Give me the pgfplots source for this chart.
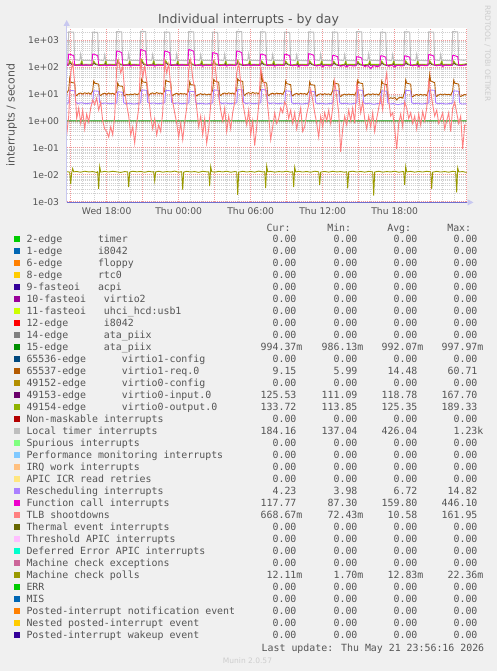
\documentclass[border=0pt]{standalone}
\usepackage{pgfplots}
\pgfplotsset{compat=1.18}
\usepackage{fontspec}
\setmainfont{DejaVu Sans}
\newfontfamily\mono{DejaVu Sans Mono}
\usetikzlibrary{arrows.meta}
\definecolor{txt}{HTML}{555555}
\definecolor{k00CC00}{HTML}{00CC00}
\definecolor{k0066B3}{HTML}{0066B3}
\definecolor{kFF8000}{HTML}{FF8000}
\definecolor{kFFCC00}{HTML}{FFCC00}
\definecolor{k330099}{HTML}{330099}
\definecolor{k990099}{HTML}{990099}
\definecolor{kCCFF00}{HTML}{CCFF00}
\definecolor{kFF0000}{HTML}{FF0000}
\definecolor{k808080}{HTML}{808080}
\definecolor{k008F00}{HTML}{008F00}
\definecolor{k00487D}{HTML}{00487D}
\definecolor{kB35A00}{HTML}{B35A00}
\definecolor{kB38F00}{HTML}{B38F00}
\definecolor{k6B006B}{HTML}{6B006B}
\definecolor{k8FB300}{HTML}{8FB300}
\definecolor{kB30000}{HTML}{B30000}
\definecolor{kBEBEBE}{HTML}{BEBEBE}
\definecolor{k80FF80}{HTML}{80FF80}
\definecolor{k80C9FF}{HTML}{80C9FF}
\definecolor{kFFC080}{HTML}{FFC080}
\definecolor{kFFE680}{HTML}{FFE680}
\definecolor{kAA80FF}{HTML}{AA80FF}
\definecolor{kEE00CC}{HTML}{EE00CC}
\definecolor{kFF8080}{HTML}{FF8080}
\definecolor{k666600}{HTML}{666600}
\definecolor{kFFBFFF}{HTML}{FFBFFF}
\definecolor{k00FFCC}{HTML}{00FFCC}
\definecolor{kCC6699}{HTML}{CC6699}
\definecolor{k999900}{HTML}{999900}
\newcommand\gp[1]{\hphantom{#1}}
\newcommand\z{0.00\hphantom{0}}
\newcommand\lrow[7]{%
  \fill[#2] (14,{428.7-12*#1}) rectangle ++(6,6);
  \node[lg] at (26.5,{428.1-12*#1}) {#3};
  \node[lv] at (302.4,{428.1-12*#1}) {#4};
  \node[lv] at (363.4,{428.1-12*#1}) {#5};
  \node[lv] at (423.4,{428.1-12*#1}) {#6};
  \node[lv] at (483.4,{428.1-12*#1}) {#7};
}
\begin{document}
\begin{tikzpicture}
\begin{scope}[x=1pt,y=1pt]
\fill[color={rgb,255:red,240;green,240;blue,240}] (0,0) rectangle (497,671);
\useasboundingbox (0,0) rectangle (497,671);
\end{scope}
\begin{axis}[
  at={(66.7pt,469.3pt)}, anchor=south west,
  scale only axis, width=400pt, height=173.4pt,
  xmin=0, xmax=400, ymode=log, ymin=1e-3, ymax=2716,
  axis background/.style={fill=white},
  axis line style={draw=none},
  major tick length=0pt, minor tick length=0pt,
  xtick={4,40,76,112,148,184,220,256,292,328,364,400},
  xticklabels={,Wed 18:00,,Thu 00:00,,Thu 06:00,,Thu 12:00,,Thu 18:00,,},
  minor xtick={4,16,...,400},
  ytick={1e-3,1e-2,1e-1,1,10,100,1000},
  yticklabels={1e-03,1e-02,1e-01,1e+00,1e+01,1e+02,1e+03},
  minor ytick={2e-3,3e-3,4e-3,5e-3,6e-3,7e-3,8e-3,9e-3,2e-2,3e-2,4e-2,5e-2,6e-2,7e-2,8e-2,9e-2,0.2,0.3,0.4,0.5,0.6,0.7,0.8,0.9,2,3,4,5,6,7,8,9,20,30,40,50,60,70,80,90,200,300,400,500,600,700,800,900,2000},
  grid=both,
  minor grid style={color={rgb,255:red,208;green,208;blue,208}, dash pattern=on 1pt off 1pt, line width=0.6pt},
  major grid style={color={rgb,255:red,240;green,150;blue,150}, dash pattern=on 1pt off 1pt, line width=0.6pt},
  tick label style={font=\fontsize{9.2}{10}\selectfont, text=txt},
  yticklabel style={anchor=east, inner sep=0pt, xshift=-7.4pt},
  xticklabel style={anchor=base, inner sep=0pt, yshift=-13.3pt},
  every axis plot/.append style={line width=0.9pt, no marks, sharp plot},
  clip=true,
]
% 15-edge ata_piix
\addplot[k008F00] coordinates {(0,0.992) (400,0.994)};
% 65537-edge virtio1-req.0
\addplot[kB35A00] coordinates {
(0,10.5) (2,14) (3,38) (4,27) (8,25) (9,9) (10,8.7) (12,10.2) (14,10.8) (16,9.9) (18,11) (20,10.3) (22,10.9) (24,9.8)
(26,13) (27,30) (28,25) (32,23) (33,9) (34,8.8) (36,10.1) (38,10.6) (40,9.7) (42,10.8) (44,10) (46,10.5) (48,9.6)
(50,12) (51,25) (52,20) (56,19) (57,8.8) (58,8.5) (60,9.6) (62,9.2) (64,9.8) (66,9.4) (68,10.1) (70,9.5) (72,9.9)
(74,14) (75,35) (76,28) (80,26) (81,9) (82,8.6) (84,10.3) (86,10.9) (88,10) (90,11.2) (92,10.4) (94,10.8) (96,9.9)
(98,13) (99,32) (100,30) (104,27) (105,9.2) (106,8.7) (108,9.8) (110,10.5) (112,9.6) (114,10.4) (116,9.9) (118,10.2) (120,9.5)
(122,13) (123,28) (124,22) (128,21) (129,8.9) (130,8.4) (132,9.5) (134,10.2) (136,9.4) (138,10) (140,9.2) (142,9.8) (144,9.3)
(146,14) (147,34) (148,30) (152,27) (153,9.1) (154,8.8) (156,10.2) (158,10.8) (160,10) (162,11) (164,10.3) (166,10.7) (168,9.8)
(170,14) (171,36) (172,32) (176,29) (177,9.3) (178,8.9) (180,10.4) (182,11.1) (184,10.2) (186,11.3) (188,10.5) (190,10.9) (192,10.1)
(194,15) (195,60) (196,28) (200,25) (201,9.2) (202,8.7) (204,10) (206,10.6) (208,9.8) (210,10.7) (212,10.1) (214,10.5) (216,9.7)
(218,13) (219,30) (220,24) (224,22) (225,8.9) (226,8.5) (228,9.8) (230,10.4) (232,9.6) (234,10.5) (236,9.9) (238,10.3) (240,9.5)
(242,12) (243,28) (244,22) (248,21) (249,8.7) (250,8.3) (252,9.6) (254,10.1) (256,9.3) (258,10.2) (260,9.6) (262,10) (264,9.2)
(266,13) (267,30) (268,25) (272,23) (273,8.5) (274,8) (276,9.2) (278,9.8) (280,9.1) (282,9.9) (284,9.3) (286,9.7) (288,9)
(290,13) (291,32) (292,26) (296,24) (297,8.6) (298,8.2) (300,9.4) (302,10) (304,9.2) (306,10.1) (308,9.5) (310,9.9) (312,9.1)
(314,12) (315,30) (316,24) (320,22) (321,7.5) (322,6.5) (324,7.2) (326,6.8) (328,7.4) (330,6) (332,7.1) (334,7.5) (336,7)
(338,12) (339,33) (340,25) (344,23) (345,8.2) (346,7.8) (348,8.9) (350,9.5) (352,8.8) (354,9.6) (356,9) (358,9.4) (360,8.7)
(362,14) (363,52) (364,30) (368,26) (369,8.6) (370,8.1) (372,9.2) (374,9.8) (376,9.1) (378,9.9) (380,9.3) (382,9.7) (384,9)
(386,13) (387,32) (388,25) (392,23) (393,8.5) (394,8) (396,8.8) (398,9.4) (400,9.15)
};
% 49153-edge virtio0-input.0
\addplot[k6B006B] coordinates {
(0,118) (2,116) (3,150) (5,121) (9,115) (14,117) (15,138) (16,116)
(26,117) (27,145) (29,122) (33,114) (38,118) (39,140) (40,116)
(50,116) (51,155) (53,123) (57,114) (62,117) (63,136) (64,115)
(74,118) (75,167) (77,124) (81,113) (86,118) (87,142) (88,116)
(98,117) (99,152) (101,122) (105,114) (110,117) (111,139) (112,115)
(122,116) (123,158) (125,123) (129,112) (134,118) (135,141) (136,116)
(146,117) (147,148) (149,121) (153,114) (158,117) (159,137) (160,115)
(170,118) (171,150) (173,122) (177,113) (182,118) (183,140) (184,116)
(194,117) (195,146) (197,121) (201,114) (206,117) (207,138) (208,115)
(218,116) (219,144) (221,121) (225,113) (230,117) (231,136) (232,115)
(242,117) (243,147) (245,122) (249,112) (254,118) (255,139) (256,116)
(266,116) (267,142) (269,120) (273,111) (278,117) (279,135) (280,115)
(290,117) (291,140) (293,121) (297,113) (302,117) (303,138) (304,115)
(314,116) (315,143) (317,121) (321,112) (326,118) (327,137) (328,116)
(338,117) (339,145) (341,122) (345,113) (350,117) (351,139) (352,115)
(362,118) (363,148) (365,122) (369,114) (374,118) (375,140) (376,116)
(386,117) (387,146) (389,121) (393,114) (398,120) (400,125.5)
};
% 49154-edge virtio0-output.0
\addplot[k8FB300] coordinates {
(0,126) (2,124) (3,170) (5,130) (9,122) (14,125) (15,180) (16,126)
(26,125) (27,165) (29,129) (33,121) (38,126) (39,185) (40,125)
(50,124) (51,175) (53,131) (57,120) (62,126) (63,178) (64,124)
(74,126) (75,189) (77,132) (81,119) (86,127) (87,182) (88,125)
(98,125) (99,172) (101,130) (105,121) (110,126) (111,176) (112,124)
(122,124) (123,180) (125,131) (129,118) (134,127) (135,184) (136,125)
(146,125) (147,168) (149,129) (153,121) (158,126) (159,175) (160,124)
(170,126) (171,174) (173,130) (177,119) (182,127) (183,180) (184,125)
(194,125) (195,166) (197,129) (201,121) (206,126) (207,177) (208,124)
(218,124) (219,164) (221,128) (225,119) (230,126) (231,172) (232,124)
(242,125) (243,168) (245,130) (249,118) (254,127) (255,179) (256,125)
(266,124) (267,162) (269,128) (273,117) (278,126) (279,170) (280,124)
(290,125) (291,160) (293,129) (297,119) (302,126) (303,176) (304,124)
(314,124) (315,165) (317,128) (321,118) (326,127) (327,174) (328,125)
(338,125) (339,168) (341,130) (345,119) (350,126) (351,178) (352,124)
(362,126) (363,170) (365,130) (369,120) (374,127) (375,175) (376,125)
(386,125) (387,166) (389,129) (393,120) (398,128) (400,133.7)
};
% Local timer interrupts
\addplot[kBEBEBE, line width=1pt] coordinates {
(0,175) (1,170) (2,2000) (7,1950) (8,185) (13,175) (14,300) (15,178) (25,172)
(26,1950) (31,1900) (32,182) (37,172) (38,280) (39,176) (49,170)
(50,2050) (55,2000) (56,185) (61,174) (62,310) (63,178) (73,172)
(74,2100) (79,2050) (80,184) (85,175) (86,290) (87,179) (97,171)
(98,1980) (103,1930) (104,182) (109,173) (110,300) (111,177) (121,170)
(122,2050) (127,2000) (128,185) (133,174) (134,285) (135,178) (145,172)
(146,1950) (151,1900) (152,181) (157,172) (158,295) (159,176) (169,170)
(170,2080) (175,2030) (176,184) (181,174) (182,305) (183,178) (193,171)
(194,2020) (199,1970) (200,183) (205,173) (206,290) (207,177) (217,170)
(218,1950) (223,1900) (224,181) (229,172) (230,280) (231,176) (241,169)
(242,2000) (247,1950) (248,182) (253,173) (254,300) (255,177) (265,170)
(266,1980) (271,1930) (272,181) (277,172) (278,285) (279,176) (289,169)
(290,2050) (295,2000) (296,184) (301,174) (302,305) (303,178) (313,171)
(314,1960) (319,1910) (320,181) (325,172) (326,290) (327,176) (337,170)
(338,2020) (343,1970) (344,183) (349,173) (350,295) (351,177) (361,170)
(362,2000) (367,1950) (368,182) (373,173) (374,290) (375,177) (385,169)
(386,2050) (391,2000) (392,184) (397,176) (400,184)
};
% Rescheduling interrupts
\addplot[kAA80FF] coordinates {
(0,4.5) (2,4.6) (3,13.5) (8,13) (9,4.9) (11,4.4) (15,4.7) (19,4.3) (23,4.5)
(26,4.6) (27,13) (32,12.5) (33,4.8) (35,4.4) (39,4.6) (43,4.3) (47,4.5)
(50,4.5) (51,12) (56,11.5) (57,4.7) (59,4.3) (63,4.5) (67,4.2) (71,4.4)
(74,4.6) (75,14) (80,13.5) (81,4.9) (83,4.4) (87,4.6) (91,4.3) (95,4.5)
(98,4.6) (99,13.5) (104,13) (105,4.8) (107,4.4) (111,4.6) (115,4.3) (119,4.5)
(122,4.5) (123,12.5) (128,12) (129,4.7) (131,4.3) (135,4.5) (139,4.2) (143,4.4)
(146,4.6) (147,14) (152,13.5) (153,4.9) (155,4.4) (159,4.6) (163,4.3) (167,4.5)
(170,4.6) (171,14.5) (176,14) (177,4.9) (179,4.4) (183,4.6) (187,4.3) (191,4.5)
(194,4.6) (195,14.8) (200,13.5) (201,4.8) (203,4.4) (207,4.6) (211,4.3) (215,4.5)
(218,4.5) (219,13) (224,12.5) (225,4.7) (227,4.3) (231,4.5) (235,4.2) (239,4.4)
(242,4.5) (243,12.5) (248,12) (249,4.7) (251,4.3) (255,4.5) (259,4.2) (263,4.4)
(266,4.5) (267,13.5) (272,13) (273,4.7) (275,4.3) (279,4.5) (283,4.2) (287,4.4)
(290,4.5) (291,14) (296,13.5) (297,4.7) (299,4.3) (303,4.5) (307,4.1) (311,4.4)
(314,4.4) (315,13) (320,12.5) (321,4.6) (323,4.2) (327,4.4) (331,4.0) (335,4.3)
(338,4.5) (339,13.5) (344,13) (345,4.7) (347,4.3) (351,4.5) (355,4.2) (359,4.4)
(362,4.5) (363,14) (368,13.5) (369,4.7) (371,4.3) (375,4.5) (379,4.2) (383,4.4)
(386,4.5) (387,13) (392,12.5) (393,4.6) (395,4.2) (399,4.3) (400,4.23)
};
% Function call interrupts
\addplot[kEE00CC] coordinates {
(0,120) (1,116) (2,300) (4,290) (7,260) (8,122) (10,114) (13,120) (16,112) (19,122) (22,116) (25,114)
(26,300) (28,295) (31,260) (32,122) (34,112) (37,119) (40,110) (43,121) (46,114) (49,116)
(50,390) (52,380) (55,340) (56,125) (58,114) (61,120) (64,108) (67,122) (70,115) (73,112)
(74,440) (76,420) (79,380) (80,126) (82,112) (85,120) (88,107) (91,121) (94,114) (97,116)
(98,390) (100,375) (103,340) (104,124) (106,114) (109,121) (112,110) (115,123) (118,116) (121,113)
(122,440) (124,425) (127,380) (128,125) (130,113) (133,119) (136,106) (139,121) (142,114) (145,115)
(146,340) (148,330) (151,300) (152,123) (154,112) (157,120) (160,108) (163,122) (166,115) (169,112)
(170,390) (172,380) (175,340) (176,124) (178,114) (181,121) (184,109) (187,123) (190,116) (193,114)
(194,300) (196,295) (199,265) (200,122) (202,112) (205,119) (208,107) (211,121) (214,114) (217,113)
(218,300) (220,290) (223,260) (224,121) (226,110) (229,118) (232,104) (235,120) (238,112) (241,111)
(242,310) (244,300) (247,270) (248,120) (250,108) (253,116) (256,102) (259,119) (262,109) (265,110)
(266,270) (268,262) (271,240) (272,118) (274,106) (277,114) (280,101) (283,117) (286,108) (289,109)
(290,240) (292,235) (295,215) (296,117) (298,104) (301,112) (304,88) (307,114) (310,102) (313,108)
(314,260) (316,255) (319,230) (320,118) (322,106) (325,116) (328,100) (331,118) (334,109) (337,111)
(338,260) (340,250) (343,230) (344,120) (346,109) (349,118) (352,103) (355,120) (358,111) (361,112)
(362,290) (364,280) (367,255) (368,121) (370,110) (373,119) (376,104) (379,121) (382,113) (385,114)
(386,270) (388,262) (391,240) (392,120) (394,111) (397,117) (400,117.8)
};
% TLB shootdowns
\addplot[kFF8080] coordinates {
(0,0.3) (2,1.5) (4,60) (6,150) (8,25) (10,1.2) (12,3) (14,0.8) (16,2.5) (18,0.5) (20,1.8) (22,0.9) (24,3)
(26,6) (28,4) (30,7) (32,2.5) (34,5) (36,1) (38,0.5) (40,0.4) (42,0.25) (44,0.6) (46,0.3) (48,1.5)
(50,90) (52,180) (54,60) (56,100) (58,12) (60,4) (62,1.5) (64,0.3) (66,0.6) (68,0.15) (70,0.8) (72,3)
(74,200) (76,40) (78,110) (80,30) (82,8) (84,1.5) (86,0.5) (88,1.2) (90,0.3) (92,0.7) (94,0.4) (96,2)
(98,160) (100,60) (102,130) (104,20) (106,5) (108,2) (110,0.8) (112,0.25) (114,0.8) (116,0.2) (118,0.9) (120,3)
(122,80) (124,190) (126,40) (128,15) (130,3) (132,0.6) (134,1.5) (136,0.3) (138,1.2) (140,0.15) (142,0.5) (144,4)
(146,100) (148,170) (150,30) (152,8) (154,2.5) (156,1) (158,3) (160,0.4) (162,1.5) (164,0.5) (166,2) (168,5)
(170,60) (172,150) (174,25) (176,5) (178,1.8) (180,0.7) (182,2.5) (184,0.3) (186,1) (188,0.12) (190,0.6) (192,4)
(194,90) (196,40) (198,20) (200,8) (202,1.5) (204,0.2) (206,0.6) (208,2) (210,0.8) (212,1.2) (214,3) (216,2)
(218,5) (220,3.5) (222,1.2) (224,2.5) (226,0.8) (228,2) (230,0.5) (232,1.2) (234,3) (236,0.4) (238,0.6) (240,1.8)
(242,4) (244,15) (246,6) (248,2) (250,0.8) (252,0.25) (254,1.5) (256,0.6) (258,2) (260,1) (262,2.5) (264,0.8)
(266,3) (268,30) (270,8) (272,2) (274,0.07) (276,0.5) (278,1.5) (280,0.7) (282,2.5) (284,1) (286,3) (288,0.8)
(290,23) (292,10) (294,2) (296,5) (298,1.2) (300,0.5) (302,1.5) (304,0.6) (306,2) (308,0.4) (310,1.2) (312,3)
(314,8) (316,2.5) (318,20) (320,60) (322,6) (324,1.5) (326,2) (328,0.5) (330,0.09) (332,0.8) (334,1.8) (336,0.6)
(338,5) (340,3) (342,1.2) (344,2) (346,0.8) (348,1.5) (350,0.5) (352,1.8) (354,0.7) (356,2.2) (358,1) (360,3)
(362,30) (364,12) (366,4) (368,1.5) (370,2.5) (372,0.8) (374,1.2) (376,2) (378,0.5) (380,1) (382,2) (384,0.4)
(386,3) (388,5) (390,2) (392,0.8) (394,1.5) (396,0.09) (398,0.7) (400,0.67)
};
% Machine check polls
\addplot[k999900] coordinates {
(0,0.013) (3,0.0125) (4,0.0045) (5,0.012) (6,0.017) (7,0.0128) (10,0.0132) (14,0.0124) (18,0.0135) (22,0.0127) (26,0.0131) (30,0.0122)
(31,0.013) (32,0.003) (33,0.02) (34,0.0125) (38,0.0133) (42,0.0126) (46,0.0134) (50,0.0128) (54,0.0122) (58,0.0131)
(61,0.0127) (62,0.0035) (63,0.0125) (66,0.0135) (70,0.0128) (74,0.0132) (78,0.0124) (82,0.0133) (86,0.0127)
(87,0.013) (88,0.006) (89,0.0128) (92,0.0134) (96,0.0125) (100,0.0131) (104,0.0127) (108,0.0136) (112,0.0124)
(115,0.013) (116,0.0028) (117,0.0126) (120,0.0133) (124,0.0127) (128,0.0131) (132,0.0123) (136,0.0134) (140,0.0128)
(142,0.0128) (143,0.0038) (144,0.02) (145,0.013) (148,0.0125) (152,0.0133) (156,0.0127) (160,0.0135) (164,0.0124) (168,0.0131)
(170,0.0128) (171,0.0018) (172,0.0125) (176,0.0134) (180,0.0126) (184,0.0132) (188,0.0125) (192,0.0136) (196,0.0127)
(198,0.013) (199,0.0032) (200,0.021) (201,0.0128) (204,0.0133) (208,0.0125) (212,0.0131) (216,0.0127) (220,0.0135) (224,0.0124)
(226,0.013) (227,0.0035) (228,0.019) (229,0.0127) (232,0.0133) (236,0.0126) (240,0.0132) (244,0.0124) (248,0.0135)
(252,0.0128) (253,0.0042) (254,0.0126) (258,0.0132) (262,0.0125) (266,0.0134) (270,0.0127) (274,0.0131) (278,0.0124)
(280,0.013) (281,0.0031) (282,0.0128) (286,0.0135) (290,0.0126) (294,0.0132) (298,0.0125) (302,0.0133)
(306,0.0128) (307,0.0017) (308,0.0127) (312,0.0134) (316,0.0125) (320,0.0131) (324,0.0127) (328,0.0135) (332,0.0124)
(336,0.0131) (337,0.013) (338,0.0042) (339,0.02) (340,0.0127) (344,0.0133) (348,0.0125) (352,0.0132) (356,0.0126) (360,0.0134)
(364,0.0128) (365,0.003) (366,0.0125) (370,0.0133) (374,0.0126) (378,0.0131) (382,0.0124) (386,0.0134)
(389,0.013) (390,0.0022) (391,0.018) (392,0.0127) (396,0.0131) (400,0.0121)
};
\end{axis}
\begin{scope}[x=1pt,y=1pt,
  lg/.style={anchor=base west, inner sep=0pt, outer sep=0pt, font=\mono\fontsize{9.9}{12}\selectfont, text=txt},
  lv/.style={anchor=base east, inner sep=0pt, outer sep=0pt, font=\mono\fontsize{9.9}{12}\selectfont, text=txt}]
% axis lines
\draw[color={rgb,255:red,200;green,200;blue,240}, line width=1pt, -{Triangle[width=6pt,length=6pt]}] (66.7,469.3) -- (66.7,651);
\draw[color={rgb,255:red,200;green,200;blue,240}, line width=1pt, -{Triangle[width=6pt,length=6pt]}] (66.7,468.6) -- (473.5,468.6);
\draw[color={rgb,255:red,112;green,112;blue,208}, line width=1pt] (66.7,468.6) -- (466.7,468.6);
% titles
\node[anchor=base, inner sep=0pt, font=\fontsize{12.5}{14}\selectfont, text=txt] at (248.5,647) {Individual interrupts - by day};
\node[rotate=90, anchor=base, inner sep=0pt, font=\fontsize{10.9}{12}\selectfont, text=txt] at (14.5,556) {interrupts / second};
\node[rotate=-90, anchor=base, inner sep=0pt, font=\fontsize{7.5}{9}\selectfont, text={rgb,255:red,205;green,205;blue,205}] at (485,617.5) {RRDTOOL / TOBI OETIKER};
% legend header
\node[lg] at (266.7,439.7) {Cur:};
\node[lg] at (327.3,439.7) {Min:};
\node[lg] at (387.3,439.7) {Avg:};
\node[lg] at (447.3,439.7) {Max:};
\lrow{0}{k00CC00}{2-edge\gp{000000}timer}{\z}{\z}{\z}{\z}
\lrow{1}{k0066B3}{1-edge\gp{000000}i8042}{\z}{\z}{\z}{\z}
\lrow{2}{kFF8000}{6-edge\gp{000000}floppy}{\z}{\z}{\z}{\z}
\lrow{3}{kFFCC00}{8-edge\gp{000000}rtc0}{\z}{\z}{\z}{\z}
\lrow{4}{k330099}{9-fasteoi\gp{000}acpi}{\z}{\z}{\z}{\z}
\lrow{5}{k990099}{10-fasteoi\gp{000}virtio2}{\z}{\z}{\z}{\z}
\lrow{6}{kCCFF00}{11-fasteoi\gp{000}uhci\_hcd:usb1}{\z}{\z}{\z}{\z}
\lrow{7}{kFF0000}{12-edge\gp{000000}i8042}{\z}{\z}{\z}{\z}
\lrow{8}{k808080}{14-edge\gp{000000}ata\_piix}{\z}{\z}{\z}{\z}
\lrow{9}{k008F00}{15-edge\gp{000000}ata\_piix}{994.37m}{986.13m}{992.07m}{997.97m}
\lrow{10}{k00487D}{65536-edge\gp{000000}virtio1-config}{\z}{\z}{\z}{\z}
\lrow{11}{kB35A00}{65537-edge\gp{000000}virtio1-req.0}{9.15\gp{0}}{5.99\gp{0}}{14.48\gp{0}}{60.71\gp{0}}
\lrow{12}{kB38F00}{49152-edge\gp{000000}virtio0-config}{\z}{\z}{\z}{\z}
\lrow{13}{k6B006B}{49153-edge\gp{000000}virtio0-input.0}{125.53\gp{0}}{111.09\gp{0}}{118.78\gp{0}}{167.70\gp{0}}
\lrow{14}{k8FB300}{49154-edge\gp{000000}virtio0-output.0}{133.72\gp{0}}{113.85\gp{0}}{125.35\gp{0}}{189.33\gp{0}}
\lrow{15}{kB30000}{Non-maskable interrupts}{\z}{\z}{\z}{\z}
\lrow{16}{kBEBEBE}{Local timer interrupts}{184.16\gp{0}}{137.04\gp{0}}{426.04\gp{0}}{1.23k}
\lrow{17}{k80FF80}{Spurious interrupts}{\z}{\z}{\z}{\z}
\lrow{18}{k80C9FF}{Performance monitoring interrupts}{\z}{\z}{\z}{\z}
\lrow{19}{kFFC080}{IRQ work interrupts}{\z}{\z}{\z}{\z}
\lrow{20}{kFFE680}{APIC ICR read retries}{\z}{\z}{\z}{\z}
\lrow{21}{kAA80FF}{Rescheduling interrupts}{4.23\gp{0}}{3.98\gp{0}}{6.72\gp{0}}{14.82\gp{0}}
\lrow{22}{kEE00CC}{Function call interrupts}{117.77\gp{0}}{87.30\gp{0}}{159.80\gp{0}}{446.10\gp{0}}
\lrow{23}{kFF8080}{TLB shootdowns}{668.67m}{72.43m}{10.58\gp{0}}{161.95\gp{0}}
\lrow{24}{k666600}{Thermal event interrupts}{\z}{\z}{\z}{\z}
\lrow{25}{kFFBFFF}{Threshold APIC interrupts}{\z}{\z}{\z}{\z}
\lrow{26}{k00FFCC}{Deferred Error APIC interrupts}{\z}{\z}{\z}{\z}
\lrow{27}{kCC6699}{Machine check exceptions}{\z}{\z}{\z}{\z}
\lrow{28}{k999900}{Machine check polls}{12.11m}{1.70m}{12.83m}{22.36m}
\lrow{29}{k00CC00}{ERR}{\z}{\z}{\z}{\z}
\lrow{30}{k0066B3}{MIS}{\z}{\z}{\z}{\z}
\lrow{31}{kFF8000}{Posted-interrupt notification event}{\z}{\z}{\z}{\z}
\lrow{32}{kFFCC00}{Nested posted-interrupt event}{\z}{\z}{\z}{\z}
\lrow{33}{k330099}{Posted-interrupt wakeup event}{\z}{\z}{\z}{\z}
\node[lg] at (261.7,19.4) {Last update: Thu May 21 23:56:16 2026};
\node[anchor=base, inner sep=0pt, font=\fontsize{7.5}{9}\selectfont, text={rgb,255:red,205;green,205;blue,205}] at (247.5,8) {Munin 2.0.57};
\end{scope}
\end{tikzpicture}
\end{document}
